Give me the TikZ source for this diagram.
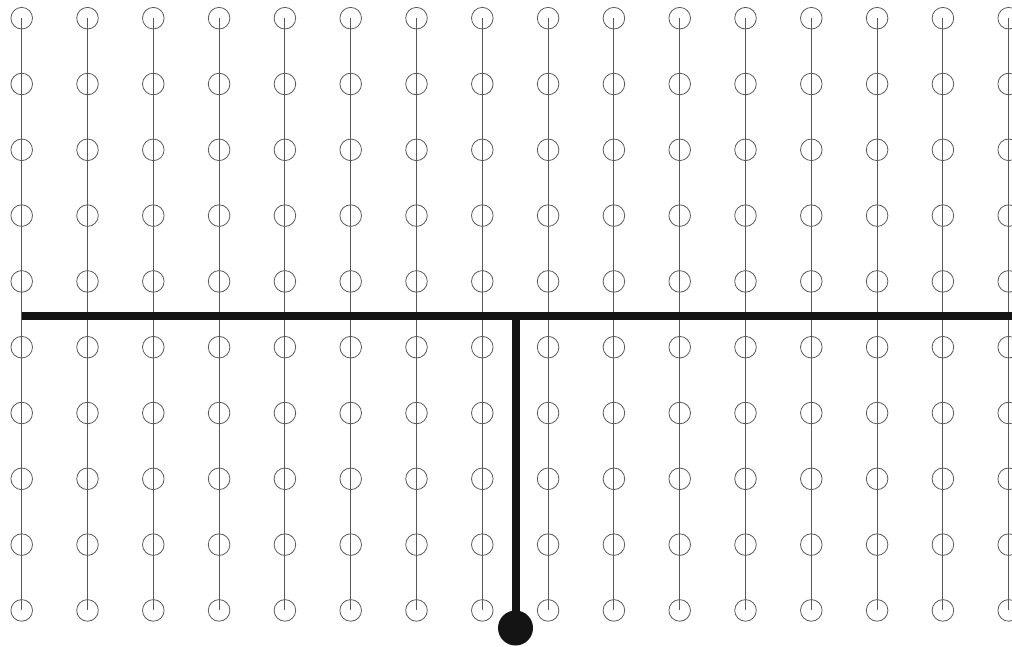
\documentclass[tikz,border=0pt]{standalone}
\usepackage{tikz}
\usetikzlibrary{positioning}
\tikzstyle{ring} = [circle, draw=black!65, line width=0.8pt, minimum size=21.6pt, inner sep=0pt]
\tikzstyle{wire} = [draw=black!65, line width=1.1pt]
\tikzstyle{bar} = [draw=black!92, line width=8pt]
\tikzstyle{ball} = [circle, fill=black!92, minimum size=35pt, inner sep=0pt]

\begin{document}
\begin{tikzpicture}[x=1pt,y=-1pt]
    \useasboundingbox (0,0) rectangle (1012,646);
    % Place nodes
    \foreach \i in {0,...,15} {
        \foreach \j in {0,...,9} {
            \node [ring] (c-\i-\j) at (21.7+65.8*\i, 18.2+65.8*\j) {};
        }
    }
    \coordinate (left) at (21.7,315.5);
    \coordinate (right) at (1012,315.5);
    \coordinate (joint) at (515.5,315.5);
    \node [ball] (weight) at (515.5,628) {};
    % Draw edges
    \foreach \i in {0,...,15}
        \path [wire] (c-\i-0.center) -- (c-\i-9.center);
    \path [bar] (left) -- (right);
    \path [bar, shorten >=-2pt] (joint) -- (weight.north);
\end{tikzpicture}
\end{document}
